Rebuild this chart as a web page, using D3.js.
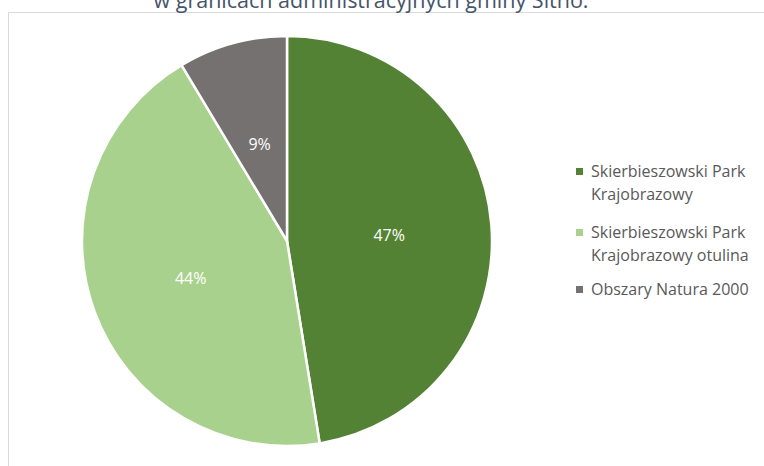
<!DOCTYPE html>
<html>
<head>
<meta charset="utf-8">
<script src="https://cdn.jsdelivr.net/npm/d3@7"></script>
<style>
  html, body { margin: 0; padding: 0; background: #fff; }
  svg { display: block; }
</style>
</head>
<body>
<svg id="chart" width="764" height="466"></svg>
<script>
const titleText = "w granicach administracyjnych gminy Sitno.";
const categories = ["Skierbieszowski Park Krajobrazowy", "Skierbieszowski Park Krajobrazowy otulina", "Obszary Natura 2000"];
const legendLines = [["Skierbieszowski Park", "Krajobrazowy"], ["Skierbieszowski Park", "Krajobrazowy otulina"], ["Obszary Natura 2000"]];
const values = [47.45, 43.95, 8.6];
const labels = ["47%", "44%", "9%"];
const colors = ["#548235", "#A9D18E", "#767171"];

const svg = d3.select("#chart");
const font = "'Open Sans', 'Noto Sans', sans-serif";

// chart frame (partially visible)
svg.append("path")
  .attr("d", "M8.5,466 L8.5,12.5 L764,12.5")
  .attr("fill", "none").attr("stroke", "#D9D9D9").attr("stroke-width", 1);

// title (cut off at top, as in the reference)
svg.append("text")
  .attr("x", 371).attr("y", 8)
  .attr("text-anchor", "middle")
  .attr("font-family", font).attr("font-size", 21.5)
  .attr("fill", "#44546A")
  .text(titleText);

const cx = 287, cy = 241, R = 205;
const pie = d3.pie().sort(null).value(d => d)(values);
const arc = d3.arc().innerRadius(0).outerRadius(R);
const labelArc = d3.arc().innerRadius(R * 0.5).outerRadius(R * 0.5);

const g = svg.append("g").attr("transform", `translate(${cx},${cy})`);
g.selectAll("path.slice").data(pie).join("path")
  .attr("class", "slice")
  .attr("d", arc)
  .attr("fill", (d, i) => colors[i])
  .attr("stroke", "#fff").attr("stroke-width", 2.5).attr("stroke-linejoin", "miter");

g.selectAll("text.lbl").data(pie).join("text")
  .attr("class", "lbl")
  .attr("transform", d => `translate(${labelArc.centroid(d)})`)
  .attr("text-anchor", "middle").attr("dy", "0.5em")
  .attr("font-family", font).attr("font-size", 16)
  .attr("fill", "#fff")
  .text((d, i) => labels[i]);

// legend
const legY = [171, 232, 289];
const lg = svg.append("g");
categories.forEach((c, i) => {
  lg.append("rect")
    .attr("x", 576).attr("y", legY[i] - 3)
    .attr("width", 7).attr("height", 7)
    .attr("fill", colors[i]);
  legendLines[i].forEach((line, j) => {
    lg.append("text")
      .attr("x", 591).attr("y", legY[i] + j * 23.5)
      .attr("dy", "0.36em")
      .attr("font-family", font).attr("font-size", 16)
      .attr("fill", "#595959")
      .text(line);
  });
});
</script>
</body>
</html>
